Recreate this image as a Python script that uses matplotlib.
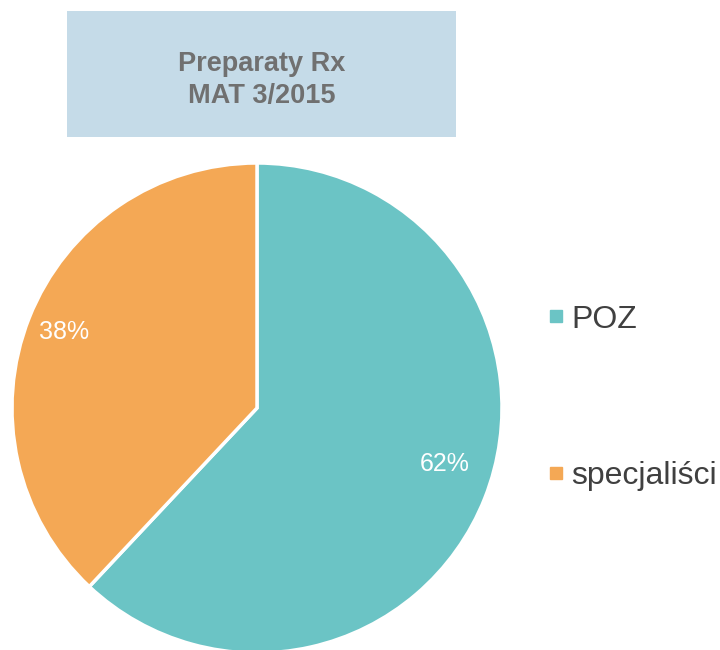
import matplotlib.pyplot as plt
from matplotlib.lines import Line2D
from matplotlib.patches import Rectangle

plt.rcParams['font.family'] = ['Liberation Sans', 'DejaVu Sans']

# dane
labels = ['POZ', 'specjaliści']
values = [62, 38]
colors = ['#6bc4c5', '#f4a855']
title = 'Preparaty Rx\nMAT 3/2015'

fig = plt.figure(figsize=(7.2, 6.5), dpi=100)
ax = fig.add_axes([0, 0, 1, 1])

# wykres kołowy
wedges, texts, autotexts = ax.pie(
    values, colors=colors, startangle=90, counterclock=False,
    center=(257, 242), radius=245, autopct='%1.0f%%', pctdistance=0.845,
    wedgeprops={'edgecolor': 'white', 'linewidth': 2.5},
    textprops={'color': 'white', 'fontsize': 18})
# etykieta 62% w oryginale siedzi trochę wyżej
x, y = autotexts[0].get_position()
autotexts[0].set_position((x - 5, y + 20))

# pie() ustawia własne granice osi, więc nadpisujemy je po nim
ax.set_xlim(0, 720)
ax.set_ylim(0, 650)
ax.set_aspect('equal')
ax.axis('off')

# ramka z tytułem
ax.add_patch(Rectangle((67, 650 - 137), 389, 126, facecolor='#c5dbe8',
                       edgecolor='none'))
ax.text(261.5, 650 - 80, title, ha='center', va='center', fontsize=19.5,
        fontweight='bold', color='#707070', linespacing=1.3)

# legenda
handles = [Line2D([], [], marker='s', linestyle='none', markersize=9,
                  markerfacecolor=c, markeredgecolor=c) for c in colors]
ax.legend(handles, labels, loc='center left', bbox_to_anchor=(546 / 720, 1 - 398 / 650),
          frameon=False, fontsize=23, labelspacing=3.97, handlelength=0.6,
          handletextpad=0.2, labelcolor='#404040', borderpad=0, borderaxespad=0)

fig.savefig('out.png', dpi=100)
